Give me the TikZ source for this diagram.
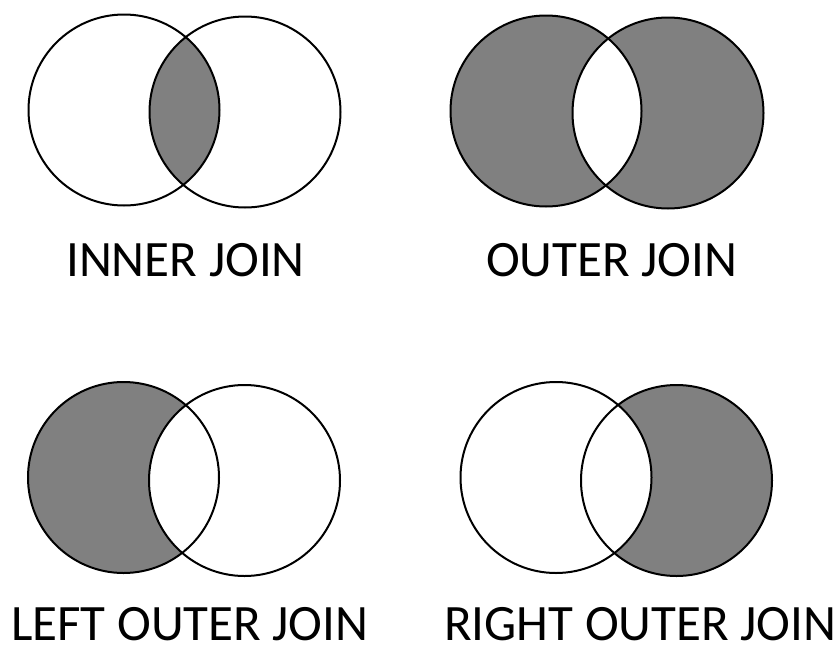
\documentclass[tikz,border=0pt]{standalone}
\usepackage{fontspec}
\setmainfont{Carlito}
\begin{document}
\begin{tikzpicture}[x=1pt, y=-1pt,
                    setline/.style={draw, line width=2pt},
                    filled/.style={fill=black!50},
                    joinname/.style={font=\fontsize{51}{60}\selectfont, inner sep=0pt, anchor=base west}
                ]
                \useasboundingbox (0,0) rectangle (838,646);
                % inner join
                \coordinate (ia) at (124,110);
                \coordinate (ib) at (245,112);
                \begin{scope}
                  \clip (ia) circle (95.5);
                  \fill[filled] (ib) circle (95.5);
                \end{scope}
                \draw[setline] (ia) circle (95.5);
                \draw[setline] (ib) circle (95.5);
                \node[joinname] (inner) at (66,276) {INNER JOIN};

                % outer join
                \coordinate (oa) at (546,111);
                \coordinate (ob) at (668,113);
                \fill[filled] (oa) circle (95.5);
                \fill[filled] (ob) circle (95.5);
                \begin{scope}
                  \clip (oa) circle (95.5);
                  \fill[white] (ob) circle (95.5);
                \end{scope}
                \draw[setline] (oa) circle (95.5);
                \draw[setline] (ob) circle (95.5);
                \node[joinname] (outer) at (486,276) {OUTER JOIN};

                % left outer join
                \coordinate (la) at (123.5,477.5);
                \coordinate (lb) at (244.5,480.5);
                \fill[filled] (la) circle (95.5);
                \begin{scope}
                  \clip (la) circle (95.5);
                  \fill[white] (lb) circle (95.5);
                \end{scope}
                \draw[setline] (la) circle (95.5);
                \draw[setline] (lb) circle (95.5);
                \node[joinname] (left) at (11,640) {LEFT OUTER JOIN};

                % right outer join
                \coordinate (ra) at (556,477.5);
                \coordinate (rb) at (676.5,480.5);
                \fill[filled] (rb) circle (95.5);
                \begin{scope}
                  \clip (rb) circle (95.5);
                  \fill[white] (ra) circle (95.5);
                \end{scope}
                \draw[setline] (ra) circle (95.5);
                \draw[setline] (rb) circle (95.5);
                \node[joinname] (right) at (444,640) {RIGHT OUTER JOIN};
\end{tikzpicture}
\end{document}
